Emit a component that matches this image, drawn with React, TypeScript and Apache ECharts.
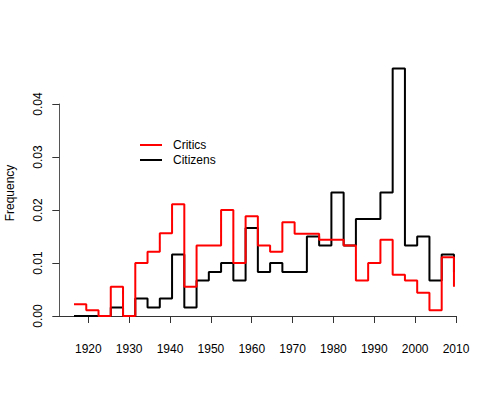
import React, { useEffect, useRef } from "react";
import * as echarts from "echarts";

const binStarts = [
  1916.5, 1919.5, 1922.5, 1925.5, 1928.5, 1931.5, 1934.5, 1937.5, 1940.5, 1943.5,
  1946.5, 1949.5, 1952.5, 1955.5, 1958.5, 1961.5, 1964.5, 1967.5, 1970.5, 1973.5,
  1976.5, 1979.5, 1982.5, 1985.5, 1988.5, 1991.5, 1994.5, 1997.5, 2000.5, 2003.5,
  2006.5, 2009.5,
];

const critics = [
  0.0022, 0.0011, 0.0, 0.0055, 0.0, 0.01, 0.0121, 0.0156, 0.0211, 0.0055,
  0.0133, 0.0133, 0.02, 0.01, 0.0188, 0.0133, 0.0121, 0.0177, 0.0155, 0.0155,
  0.0144, 0.0144, 0.0133, 0.0067, 0.01, 0.0144, 0.0078, 0.0067, 0.0044, 0.0011,
  0.0111, 0.0055,
];

const citizens = [
  0.0, 0.0, 0.0, 0.0016, 0.0, 0.0033, 0.0016, 0.0033, 0.0116, 0.0016,
  0.0067, 0.0083, 0.01, 0.0067, 0.0166, 0.0083, 0.01, 0.0083, 0.0083, 0.015,
  0.0133, 0.0233, 0.0133, 0.0183, 0.0183, 0.0233, 0.0467, 0.0133, 0.015, 0.0067,
  0.0116, 0.0083,
];

const xTicks = [1920, 1930, 1940, 1950, 1960, 1970, 1980, 1990, 2000, 2010];

const FONT = "'Liberation Sans', Arial, Helvetica, sans-serif";

export default function App() {
  const ref = useRef<HTMLDivElement>(null);
  useEffect(() => {
    if (!ref.current) return;
    const chart = echarts.init(ref.current, null, { renderer: "svg" });
    const toPairs = (vals: number[]) => binStarts.map((x, i) => [x, vals[i]]);
    chart.setOption({
      animation: false,
      backgroundColor: "#ffffff",
      textStyle: { fontFamily: FONT },
      grid: { left: 59.3, right: 44, top: 104, bottom: 84, containLabel: false },
      xAxis: {
        type: "value",
        min: 1912.9,
        max: 2010,
        offset: 11,
        axisLine: { show: true, lineStyle: { color: "#333", width: 1 } },
        axisTick: {
          show: true,
          length: 7,
          customValues: xTicks,
          lineStyle: { color: "#333", width: 1 },
        },
        axisLabel: {
          customValues: xTicks,
          margin: 16,
          fontSize: 12,
          color: "#000",
          fontFamily: FONT,
          formatter: (v: number) => String(Math.round(v)),
        },
        splitLine: { show: false },
      },
      yAxis: {
        type: "value",
        min: 0,
        max: 0.04,
        interval: 0.01,
        axisLine: { show: true, lineStyle: { color: "#555", width: 1 } },
        axisTick: { show: true, length: 7, lineStyle: { color: "#333", width: 1 } },
        axisLabel: {
          rotate: 90,
          margin: 15,
          fontSize: 12,
          color: "#000",
          fontFamily: FONT,
          formatter: (v: number) => v.toFixed(2),
        },
        splitLine: { show: false },
      },
      legend: {
        data: ["Critics", "Citizens"],
        orient: "vertical",
        left: 140,
        top: 139,
        padding: 0,
        icon: "rect",
        itemWidth: 22,
        itemHeight: 2,
        itemGap: 3,
        textStyle: { fontSize: 12, color: "#000", fontFamily: FONT, padding: [0, 0, 0, 6] },
      },
      graphic: [
        {
          type: "text",
          x: 10,
          y: 193,
          rotation: Math.PI / 2,
          style: {
            text: "Frequency",
            fontSize: 12,
            fontFamily: FONT,
            fill: "#000",
            textAlign: "center",
            textVerticalAlign: "middle",
          },
        },
      ],
      series: [
        {
          name: "Citizens",
          type: "line",
          step: "end",
          data: toPairs(citizens),
          showSymbol: false,
          clip: false,
          itemStyle: { color: "#000000" },
          lineStyle: { color: "#000000", width: 2 },
        },
        {
          name: "Critics",
          type: "line",
          step: "end",
          data: toPairs(critics),
          showSymbol: false,
          clip: false,
          itemStyle: { color: "#ff0000" },
          lineStyle: { color: "#ff0000", width: 2 },
        },
      ],
    });
    return () => chart.dispose();
  }, []);
  return (
    <div
      ref={ref}
      style={{ position: "fixed", left: 0, top: 0, width: 500, height: 400 }}
    />
  );
}
